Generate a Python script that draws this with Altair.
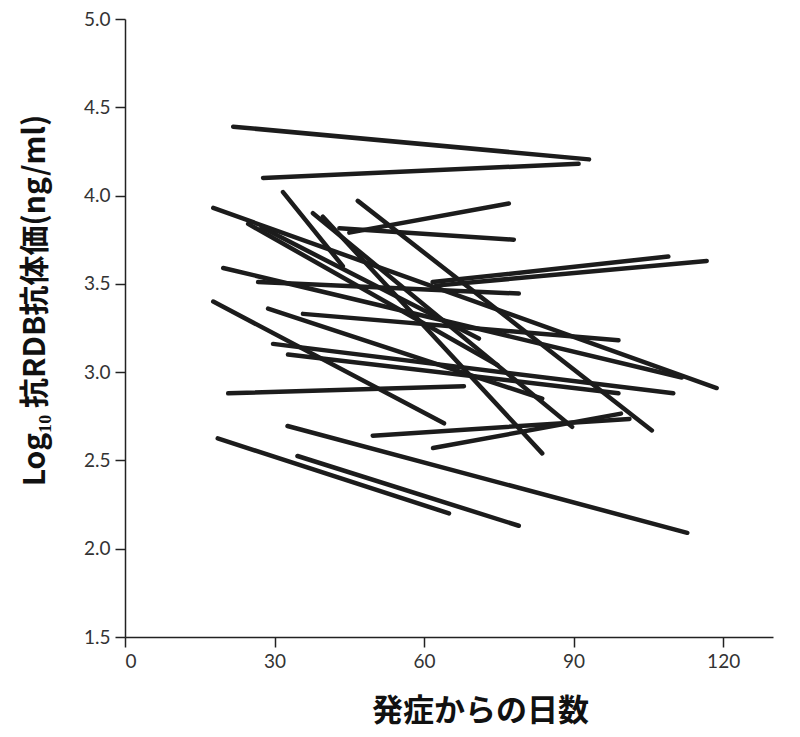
import altair as alt
import pandas as pd

# segment endpoints: (day, log10 titre) at first and second sampling
day_start = [21.7, 27.7, 31.7, 17.7, 24.7, 27.4, 37.7, 39.7, 46.7, 43.0, 45.0, 19.7, 26.7,
             61.7, 62.4, 17.7, 28.7, 35.7, 29.7, 32.7, 20.7, 49.7, 61.8, 18.6, 34.6, 32.6]
val_start = [4.39, 4.10, 4.02, 3.93, 3.84, 3.82, 3.90, 3.88, 3.97, 3.815, 3.79, 3.59, 3.51,
             3.51, 3.49, 3.40, 3.36, 3.33, 3.16, 3.10, 2.88, 2.64, 2.57, 2.625, 2.525, 2.695]
day_end = [93.1, 91.0, 43.7, 118.7, 74.7, 71.0, 89.7, 83.7, 105.7, 78.0, 77.0, 111.7, 79.0,
           109.0, 116.7, 64.0, 83.7, 99.0, 110.0, 99.0, 68.0, 101.2, 99.5, 65.0, 79.0, 112.8]
val_end = [4.205, 4.18, 3.60, 2.91, 3.04, 3.19, 2.69, 2.54, 2.67, 3.75, 3.955, 2.97, 3.445,
           3.655, 3.63, 2.71, 2.85, 3.18, 2.88, 2.88, 2.92, 2.735, 2.765, 2.20, 2.13, 2.09]

x_ticks = [0, 30, 60, 90, 120]
y_ticks = [1.5, 2.0, 2.5, 3.0, 3.5, 4.0, 4.5, 5.0]

df = pd.DataFrame({"d0": day_start, "v0": val_start, "d1": day_end, "v1": val_end})

chart = alt.Chart(df).mark_rule(
    color="#1c1c1c", strokeWidth=4.5, strokeCap="round"
).encode(
    x=alt.X("d0:Q", scale=alt.Scale(domain=[0, 130], nice=False, zero=False),
            axis=alt.Axis(values=x_ticks, title="発症からの日数", grid=False,
                          titleX=355, titleY=83, titleAlign="center",
                          titleBaseline="alphabetic", titleFontSize=31)),
    x2="d1:Q",
    y=alt.Y("v0:Q", scale=alt.Scale(domain=[1.5, 5.0], nice=False, zero=False),
            axis=alt.Axis(values=y_ticks, format=".1f", grid=False,
                          title="Log₁₀ 抗RDB抗体価(ng/ml)",
                          titleX=-90, titleY=281, titleAlign="center",
                          titleBaseline="middle", titleAngle=-90, titleFontSize=30)),
    y2="v1:Q",
).properties(
    width=648, height=618,
    autosize=alt.AutoSizeParams(type="none"),
    padding={"left": 117, "top": 11, "right": 19, "bottom": 92},
).configure_view(stroke=None).configure_axis(
    domainColor="#222", domainWidth=1.5, tickColor="#222", tickWidth=1.5, tickSize=10,
    labelFont="Lato", labelFontSize=19, labelColor="#333", labelPadding=5,
    titleFont="Noto Sans CJK JP", titleFontWeight="bold", titleColor="#111",
)

chart.save("out.html", embed_options={"renderer": "svg", "actions": False})
